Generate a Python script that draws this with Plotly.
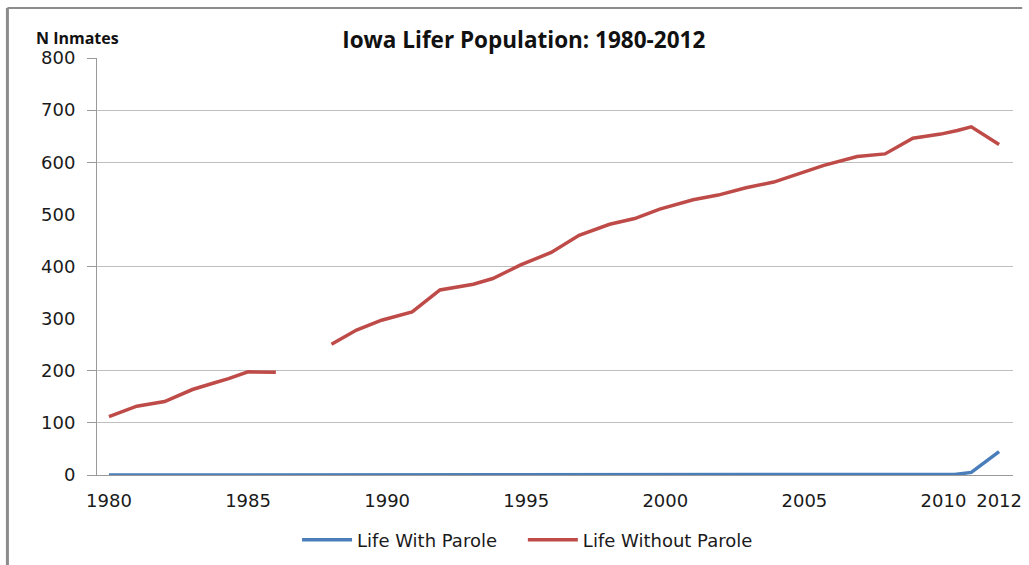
import plotly.graph_objects as go

# ---- data ----
wop_years = [1980, 1980.7, 1981, 1982, 1982.5, 1983, 1983.8, 1984.3, 1985, 1986,
             1987,
             1988, 1988.9, 1989.8, 1990.9, 1991.9, 1993.1, 1993.8, 1994.8, 1995.9,
             1996.9, 1998, 1998.9, 1999.8, 2001, 2001.9, 2002.9, 2003.9, 2004.9,
             2005.7, 2006.9, 2007.9, 2008.9, 2009.9, 2010.5, 2011, 2012]
wop_values = [112, 126, 132, 141, 153, 164, 177, 185, 198, 197,
              None,
              251, 278, 297, 313, 355, 366, 377, 403, 427,
              460, 481, 492, 510, 528, 537, 551, 562, 580,
              594, 611, 616, 646, 654, 661, 668, 634]

wp_years = [1980, 1990, 2000, 2010, 2010.4, 2011, 2012]
wp_values = [0, 0, 0, 0, 1, 5, 45]

x_ticks = [1980, 1985, 1990, 1995, 2000, 2005, 2010, 2012]
y_ticks = [0, 100, 200, 300, 400, 500, 600, 700, 800]
grid_values = [0, 100, 200, 400, 600, 700, 800]

title_text = "Iowa Lifer Population: 1980-2012"
y_label = "N Inmates"

BLUE = "#4A7EBB"
RED = "#BE4B48"
GRID = "#BFBFBF"
AXIS = "#9A9A9A"
TICKFONT = dict(family="DejaVu Sans", size=18, color="#1a1a1a")
LEGFONT = dict(family="DejaVu Sans", size=18, color="#1a1a1a")

fig = go.Figure()
fig.add_trace(go.Scatter(x=wp_years, y=wp_values, mode="lines", name="Life With Parole",
                         line=dict(color=BLUE, width=3.5), yaxis="y2", legend="legend"))
fig.add_trace(go.Scatter(x=wop_years, y=wop_values, mode="lines", name="Life Without Parole",
                         line=dict(color=RED, width=3.5), connectgaps=False,
                         legend="legend2"))

fig.update_layout(
    width=1029, height=565,
    margin=dict(l=97, r=7, t=58, b=90),
    paper_bgcolor="white", plot_bgcolor="white",
    showlegend=True,
    title=dict(text="<b>" + title_text + "</b>", xref="container", x=0.509, xanchor="center",
               yref="container", y=1 - 40 / 565, yanchor="middle",
               font=dict(family="Open Sans", size=22.5, color="#111")),
    xaxis=dict(range=[1979.57, 2012.5], tickmode="array", tickvals=x_ticks,
               ticktext=[str(v) for v in x_ticks], showgrid=False, zeroline=False,
               showline=True, linecolor=AXIS, linewidth=1, ticks="",
               ticklabelstandoff=9, ticklabeloverflow="allow", tickfont=TICKFONT),
    yaxis=dict(range=[0, 800], tickmode="array", tickvals=y_ticks, showgrid=False,
               zeroline=False, showline=True, linecolor=AXIS, linewidth=1, ticks="",
               ticklabelstandoff=17, tickfont=TICKFONT),
    yaxis2=dict(range=[0, 800], overlaying="y", side="left", tickmode="array",
                tickvals=grid_values, showgrid=True, gridcolor=GRID, gridwidth=1,
                zeroline=False, showline=False, ticks="outside", ticklen=9,
                tickcolor=AXIS, showticklabels=False),
    legend=dict(orientation="h", xref="paper", x=0.2184, xanchor="left",
                yref="paper", y=-0.156, yanchor="middle", itemwidth=50,
                font=LEGFONT, bgcolor="rgba(0,0,0,0)"),
    legend2=dict(orientation="h", xref="paper", x=0.4649, xanchor="left",
                 yref="paper", y=-0.156, yanchor="middle", itemwidth=50,
                 font=LEGFONT, bgcolor="rgba(0,0,0,0)"),
    annotations=[dict(text="<b>" + y_label + "</b>", xref="paper", yref="paper",
                      x=-0.069, xanchor="left", y=1.047, yanchor="middle",
                      showarrow=False, font=dict(family="Open Sans", size=16, color="#111"))],
    shapes=[
        dict(type="line", xref="paper", yref="paper", x0=-0.0978, x1=-0.0978,
             y0=1.12, y1=-0.22, line=dict(color="#8C8C8C", width=3)),
        dict(type="line", xref="paper", yref="paper", x0=-0.0978, x1=1.01,
             y0=1.12, y1=1.12, line=dict(color="#8C8C8C", width=2)),
    ],
)

fig.write_html("out.html", config={"displayModeBar": False},
               post_script="document.body.style.margin='0px';")
